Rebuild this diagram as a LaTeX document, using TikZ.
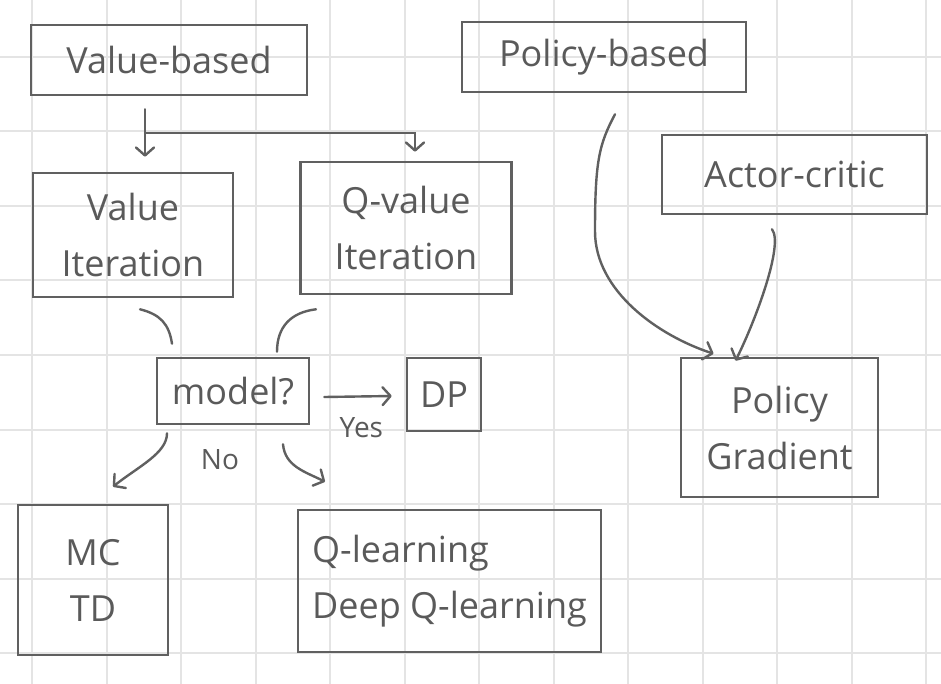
\documentclass[tikz,border=0pt]{standalone}
\usepackage{fontspec}
\setmainfont{Open Sans}
\usepackage{xcolor}
\usepackage{tikz}
\usetikzlibrary{arrows.meta}
\definecolor{penc}{HTML}{606060}
\definecolor{inkc}{HTML}{5A5A5A}
\definecolor{gridc}{HTML}{E4E4E4}

\begin{document}
\begin{tikzpicture}[x=1pt,y=-1pt,
    box/.style={draw=penc,line width=2.6pt,inner sep=0pt,text=inkc,align=center,
      font=\fontsize{36}{56}\selectfont},
    stroke/.style={draw=penc,line width=2.4pt,line cap=round},
    arr/.style={stroke,-{Straight Barb[round,length=8pt,width=18pt]}},
    lbl/.style={text=inkc,inner sep=0pt,font=\fontsize{28}{32}\selectfont}]
    \def\G{74.5}
    % Paper grid
    \useasboundingbox (0,0) rectangle (941,684);
    \fill[white] (0,0) rectangle (941,684);
    \foreach \i in {0,...,12} \draw[gridc,line width=2pt] (32+\i*\G,0) -- (32+\i*\G,684);
    \foreach \j in {0,...,8} \draw[gridc,line width=2pt] (0,57+\j*\G) -- (941,57+\j*\G);
    % Value side
    \node[box,minimum width=276,minimum height=70] (vb) at (169,60) {Value-based};
    \node[box,minimum width=200,minimum height=124] (vi) at (133,235) {Value\\Iteration};
    \node[box,minimum width=211,minimum height=132] (qvi) at (406,228) {Q-value\\Iteration};
    \node[box,minimum width=152,minimum height=66] (model) at (233,391) {model?};
    \node[box,minimum width=74,minimum height=73] (dp) at (444,394.5) {DP};
    \node[box,minimum width=150,minimum height=150] (mctd) at (93,580) {MC\\TD};
    \node[box,minimum width=303,minimum height=142,align=left] (ql) at (449.5,581) {Q-learning\\Deep Q-learning};
    % Policy side
    \node[box,minimum width=284,minimum height=70] (pb) at (604,57) {Policy-based};
    \node[box,minimum width=265,minimum height=79] (ac) at (794.5,174.5) {Actor-critic};
    \node[box,minimum width=197,minimum height=139] (pg) at (779.5,427.5) {Policy\\Gradient};
    % Value-based splits
    \draw[arr] ([xshift=-24pt,yshift=-13pt]vb.south) -- coordinate[pos=0.5] (fork) ([xshift=12pt,yshift=15pt]vi.north);
    \draw[arr] (fork) -| ([xshift=9pt,yshift=9pt]qvi.north);
    % Iterations meet at model?
    \draw[stroke] ([xshift=7pt,yshift=-11pt]vi.south) .. controls +(20,5) and +(-3,-20) .. ([xshift=-61pt,yshift=13pt]model.north);
    \draw[stroke] ([xshift=-90pt,yshift=-14pt]qvi.south) .. controls +(-25,3) and +(0,-25) .. ([xshift=44pt,yshift=5pt]model.north);
    % Yes / No
    \draw[arr] ([xshift=14pt,yshift=-6pt]model.east) -- node[lbl,pos=0.55,below=20pt] (yes) {Yes} ([xshift=-14pt,yshift=-1.5pt]dp.west);
    \draw[arr] ([xshift=-66pt,yshift=-8pt]model.south) .. controls +(0,20) and +(25,-20) .. ([xshift=20pt,yshift=17pt]mctd.north);
    \draw[arr] ([xshift=50pt,yshift=-19pt]model.south) .. controls +(2,22) and +(-20,-10) .. ([xshift=-124.5pt,yshift=27pt]ql.north);
    \node[lbl] (no) at ([xshift=-13pt,yshift=-34pt]model.south) {No};
    % Policy gradient inputs
    \draw[arr] ([xshift=11pt,yshift=-21pt]pb.south) .. controls +(-16,30) and +(0,-70) .. ([xshift=-9pt,yshift=-138pt]pb.south)
      .. controls +(0,60) and +(-55,-18) .. ([xshift=-66pt,yshift=3pt]pg.north);
    \draw[arr] ([xshift=-22.5pt,yshift=-14pt]ac.south) .. controls +(12,15) and +(20,-40) .. ([xshift=-44pt,yshift=-4pt]pg.north);
\end{tikzpicture}
\end{document}
